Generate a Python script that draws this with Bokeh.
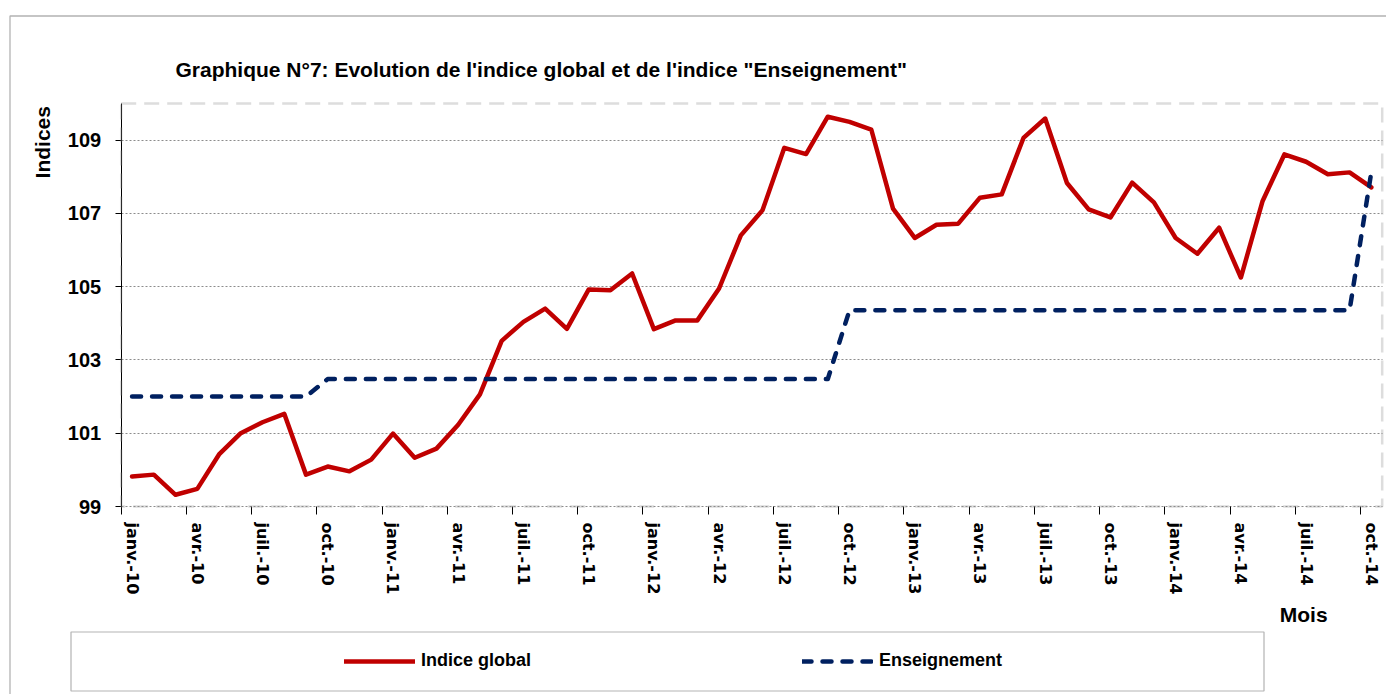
from math import pi
from bokeh.plotting import figure
from bokeh.models import (Range1d, FixedTicker, Label, Legend, LegendItem,
                          BoxAnnotation, Grid)
from bokeh.embed import file_html
from bokeh.resources import INLINE

# ---------------- data ----------------
years = ["10", "11", "12", "13", "14"]
month_names = ["janv.", "févr.", "mars", "avr.", "mai", "juin",
               "juil.", "août", "sept.", "oct.", "nov.", "déc."]
months = [f"{m}-{y}" for y in years for m in month_names][:58]

indice_global = [99.82, 99.87, 99.32, 99.48, 100.42, 101.00, 101.30, 101.53, 99.87, 100.09,
                 99.96, 100.28, 100.99, 100.33, 100.58, 101.23, 102.06, 103.52, 104.04, 104.40,
                 103.85, 104.92, 104.90, 105.36, 103.84, 104.08, 104.08, 104.95, 106.40, 107.09,
                 108.79, 108.62, 109.64, 109.50, 109.29, 107.13, 106.33, 106.69, 106.72, 107.43,
                 107.52, 109.06, 109.59, 107.83, 107.11, 106.89, 107.84, 107.30, 106.33, 105.90,
                 106.61, 105.25, 107.34, 108.61, 108.41, 108.07, 108.12, 107.71]

enseignement = [102.00, 102.00, 102.00, 102.00, 102.00, 102.00, 102.00, 102.00, 102.00, 102.48,
                102.48, 102.48, 102.48, 102.48, 102.48, 102.48, 102.48, 102.48, 102.48, 102.48,
                102.48, 102.48, 102.48, 102.48, 102.48, 102.48, 102.48, 102.48, 102.48, 102.48,
                102.48, 102.48, 102.48, 104.36, 104.36, 104.36, 104.36, 104.36, 104.36, 104.36,
                104.36, 104.36, 104.36, 104.36, 104.36, 104.36, 104.36, 104.36, 104.36, 104.36,
                104.36, 104.36, 104.36, 104.36, 104.36, 104.36, 104.36, 108.13]

y_ticks = [99, 101, 103, 105, 107, 109]
y_min, y_max = 99, 110
label_every = 3

title_text = "Graphique N°7: Evolution de l'indice global  et de l'indice \"Enseignement\""
y_title = "Indices"
x_title = "Mois"
series_names = ["Indice global", "Enseignement"]
red = "#C00000"
blue = "#002060"
FONT = "Liberation Sans"

x = list(range(len(months)))
x_lo, x_hi = -0.5, len(months) - 0.5

# ---------------- page geometry (pixels) ----------------
W, H = 1386, 694                 # canvas size; the canvas lands at the page origin
OX, OY = 0, 0
PLOT_L, PLOT_R, PLOT_T, PLOT_B = 120.7, 1381.7, 103.0, 506.0
sx_unit = (PLOT_R - PLOT_L) / (x_hi - x_lo)
sy_unit = (PLOT_B - PLOT_T) / (y_max - y_min)


def X(px):
    return x_lo + (px - PLOT_L) / sx_unit


def Y(py):
    return y_min + (PLOT_B - py) / sy_unit


p = figure(width=W, height=H,
           x_range=Range1d(X(OX), X(OX + W)), y_range=Range1d(Y(OY + H), Y(OY)),
           output_backend="svg", toolbar_location=None, min_border=0,
           background_fill_color="white", border_fill_color="white")
p.outline_line_color = None

# outer chart border (top and left edges visible)
p.add_layout(BoxAnnotation(left=X(9.5), top=Y(15.5), right=X(OX + W + 20), bottom=Y(OY + H + 20),
                           fill_alpha=0, line_color="black", line_width=1.3))

# grid lines
p.xgrid.visible = False
p.ygrid.ticker = FixedTicker(ticks=y_ticks)
p.ygrid.grid_line_color = "#8c8c8c"
p.ygrid.grid_line_dash = "2 2"
p.ygrid.grid_line_width = 1
if "cross_bounds" in Grid.properties():
    p.ygrid.cross_bounds = (x_lo, x_hi)
else:
    p.ygrid.visible = False
    p.segment(x0=x_lo, x1=x_hi, y0=y_ticks[1:], y1=y_ticks[1:],
              line_color="#8c8c8c", line_dash="2 2", line_width=1)

# plot-area border
p.add_layout(BoxAnnotation(left=x_lo, right=x_hi, bottom=y_min, top=y_max,
                           fill_alpha=0, line_color="#8f8f8f", line_width=2.5,
                           line_dash="15 8"))

r_red = p.line(x, indice_global, line_color=red, line_width=4.5,
               line_join="round", line_cap="round")
r_blue = p.line(x, enseignement, line_color=blue, line_width=4.5, line_dash="9 11",
                line_join="round", line_cap="round")

# y axis (drawn at the plot-area edge)
p.yaxis.fixed_location = x_lo
p.yaxis.bounds = (y_min, y_max)
p.yaxis.ticker = FixedTicker(ticks=y_ticks)
p.yaxis.axis_line_color = "black"
p.yaxis.major_tick_line_color = "black"
p.yaxis.major_tick_out = 6
p.yaxis.major_tick_in = 0
p.yaxis.minor_tick_line_color = None
p.yaxis.major_label_standoff = 14
p.yaxis.major_label_text_font = FONT
p.yaxis.major_label_text_font_style = "bold"
p.yaxis.major_label_text_font_size = "20px"
p.yaxis.major_label_text_color = "black"

# x axis
major = [i for i in x if i % label_every == 0]
minor = [i - 0.5 for i in major]
p.xaxis.fixed_location = y_min
p.xaxis.bounds = (x_lo, x_hi)
p.xaxis.ticker = FixedTicker(ticks=major, minor_ticks=minor)
p.xaxis.major_label_overrides = {i: months[i] for i in major}
p.xaxis.major_label_orientation = "vertical"
p.xaxis.axis_line_color = None
p.xaxis.major_tick_line_color = None
p.xaxis.major_tick_out = 8
p.xaxis.major_tick_in = 0
p.xaxis.minor_tick_line_color = "black"
p.xaxis.minor_tick_out = 8
p.xaxis.minor_tick_in = 0
p.xaxis.major_label_standoff = 8
p.xaxis.major_label_text_font = "DejaVu Sans"
p.xaxis.major_label_text_font_style = "bold"
p.xaxis.major_label_text_font_size = "16px"
p.xaxis.major_label_text_color = "black"

# texts
p.add_layout(Label(x=X(175), y=Y(68.5), text=title_text, text_align="left",
                   text_baseline="alphabetic", text_font=FONT,
                   text_font_style="bold", text_font_size="21px", text_color="black"))
p.add_layout(Label(x=X(41.5), y=Y(141.7), text=y_title, angle=pi / 2, text_align="center",
                   text_baseline="alphabetic", text_font=FONT,
                   text_font_style="bold", text_font_size="21px", text_color="black"))
p.add_layout(Label(x=X(1279.3), y=Y(613.5), text=x_title, text_align="left",
                   text_baseline="alphabetic", text_font=FONT,
                   text_font_style="bold", text_font_size="21px", text_color="black"))

# legend box and legend
p.add_layout(BoxAnnotation(left=X(70.5), right=X(1263.5), top=Y(631.5), bottom=Y(690.5),
                           fill_alpha=0, line_color="black", line_width=1.2))
legend = Legend(items=[LegendItem(label=series_names[0], renderers=[r_red]),
                       LegendItem(label=series_names[1], renderers=[r_blue])],
                orientation="horizontal", location=(344 - OX, OY + H - 671),
                padding=0, spacing=271, margin=0,
                glyph_width=71, glyph_height=20, label_standoff=6,
                border_line_color=None, background_fill_alpha=0,
                label_text_font=FONT, label_text_font_style="bold",
                label_text_font_size="18px", label_text_color="black")
p.add_layout(legend)

open("out.html", "w").write(file_html(p, INLINE))
